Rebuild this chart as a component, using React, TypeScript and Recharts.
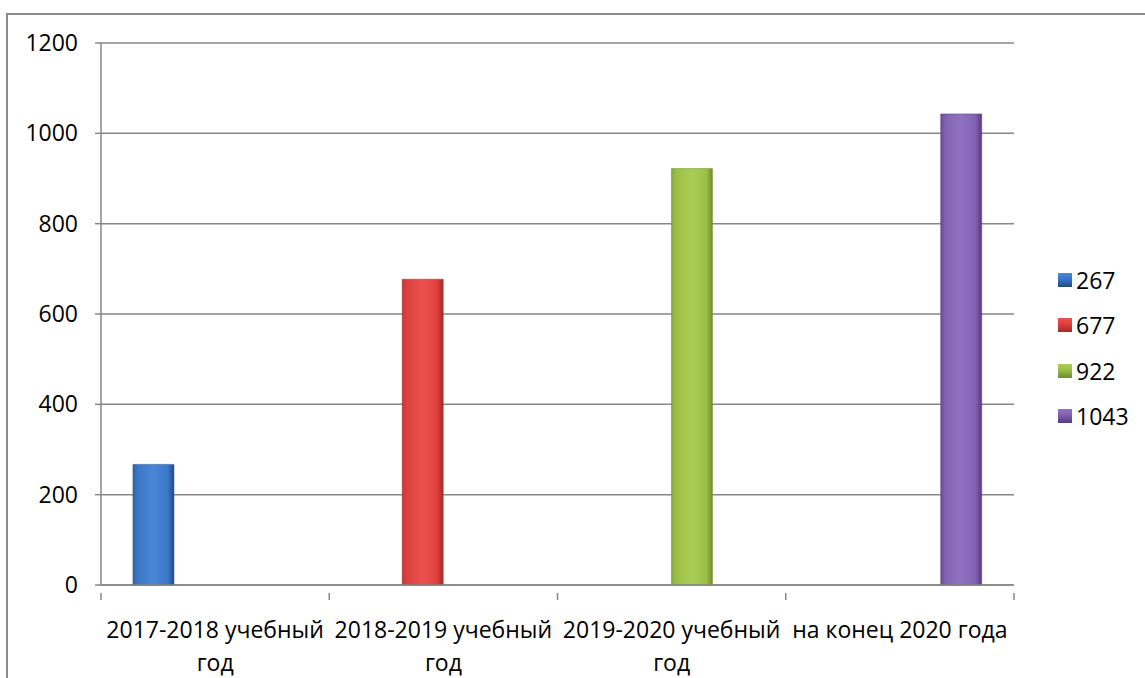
import { Bar, BarChart, CartesianGrid, XAxis, YAxis } from "recharts";

const CATEGORIES = [
  "2017-2018 учебный\nгод",
  "2018-2019 учебный\nгод",
  "2019-2020 учебный\nгод",
  "на конец 2020 года",
];

const SERIES_NAMES = ["267", "677", "922", "1043"];
const S1 = [267, null, null, null];
const S2 = [null, 677, null, null];
const S3 = [null, null, 922, null];
const S4 = [null, null, null, 1043];
const SERIES_VALUES = [S1, S2, S3, S4];

const Y_TICKS = [0, 200, 400, 600, 800, 1000, 1200];

// edge, mid, light, dark
const COLORS = [
  ["#2f64a8", "#3b78c8", "#4a88d6", "#1d4a85"],
  ["#c23a36", "#e0403e", "#ec5250", "#a52a28"],
  ["#86a83c", "#9bc046", "#abcd58", "#6f8d2e"],
  ["#6c4c98", "#8262b4", "#9072c2", "#553a7c"],
];

const FONT = "'Open Sans', sans-serif";
const FS = 23;
const W = 1145;
const H = 678;
const MARGIN = { top: 43, right: 131, left: 21, bottom: 32 };
const Y_W = 80;
const X_H = 61;
const PLOT_W = W - MARGIN.left - Y_W - MARGIN.right;
const GRID = "#878787";

const data = CATEGORIES.map((name, i) => {
  const row: Record<string, string | number | null> = { name };
  SERIES_VALUES.forEach((vals, s) => {
    row[`s${s}`] = vals[i];
  });
  return row;
});

function XTick(props: any) {
  const { x, y, payload, index } = props;
  const band = PLOT_W / CATEGORIES.length;
  const lines = String(payload.value).split("\n");
  return (
    <g>
      {index === 0 && (
        <line x1={x - band / 2} x2={x - band / 2} y1={y} y2={y + 7} stroke={GRID} strokeWidth={1.5} />
      )}
      <line x1={x + band / 2} x2={x + band / 2} y1={y} y2={y + 7} stroke={GRID} strokeWidth={1.5} />
      <text textAnchor="middle" fontFamily={FONT} fontSize={FS} fill="#000">
        {lines.map((l, i) => (
          <tspan key={i} x={x} y={y + 45 + i * 33}>
            {l}
          </tspan>
        ))}
      </text>
    </g>
  );
}

function LegendBox() {
  return (
    <div style={{ position: "absolute", left: 1058, top: 257, fontFamily: FONT, fontSize: FS, color: "#000" }}>
      {SERIES_NAMES.map((n, i) => (
        <div key={n} style={{ display: "flex", alignItems: "center", height: 45.5 }}>
          <span
            style={{
              display: "inline-block",
              width: 14,
              height: 14,
              marginRight: 4,
              background: `linear-gradient(to bottom, ${COLORS[i][2]}, ${COLORS[i][1]} 40%, ${COLORS[i][3]})`,
            }}
          />
          {n}
        </div>
      ))}
    </div>
  );
}

export default function App() {
  return (
    <div style={{ position: "fixed", left: 0, top: 0, width: W, height: H, overflow: "hidden", background: "#fff" }}>
      <div
        style={{
          position: "absolute",
          left: 6,
          top: 13,
          width: 2000,
          height: 2000,
          borderLeft: "2px solid #8c8c8c",
          borderTop: "2px solid #8c8c8c",
        }}
      />
      <div style={{ position: "absolute", left: 0, top: 0 }}>
        <BarChart width={W} height={H} data={data} margin={MARGIN} barCategoryGap="14%" barGap={0}>
          <defs>
            {COLORS.map((c, i) => (
              <linearGradient key={i} id={`g${i}`} x1="0" y1="0" x2="1" y2="0">
                <stop offset="0%" stopColor={c[0]} />
                <stop offset="12%" stopColor={c[1]} />
                <stop offset="50%" stopColor={c[2]} />
                <stop offset="85%" stopColor={c[1]} />
                <stop offset="100%" stopColor={c[3]} />
              </linearGradient>
            ))}
          </defs>
          <CartesianGrid vertical={false} stroke={GRID} strokeWidth={1.5} />
          <XAxis
            dataKey="name"
            height={X_H}
            axisLine={{ stroke: GRID, strokeWidth: 1.5 }}
            tickLine={false}
            tick={<XTick />}
            interval={0}
          />
          <YAxis
            width={Y_W}
            domain={[0, 1200]}
            ticks={Y_TICKS}
            axisLine={{ stroke: GRID, strokeWidth: 1.5 }}
            tickLine={{ stroke: GRID, strokeWidth: 1.5 }}
            tickSize={6}
            tickMargin={17}
            tick={{ fontFamily: FONT, fontSize: FS, fill: "#000" }}
          />
          {SERIES_NAMES.map((n, i) => (
            <Bar
              key={n}
              dataKey={`s${i}`}
              name={n}
              fill={`url(#g${i})`}
              stroke={COLORS[i][3]}
              strokeOpacity={0.5}
              isAnimationActive={false}
            />
          ))}
        </BarChart>
      </div>
      <LegendBox />
    </div>
  );
}
